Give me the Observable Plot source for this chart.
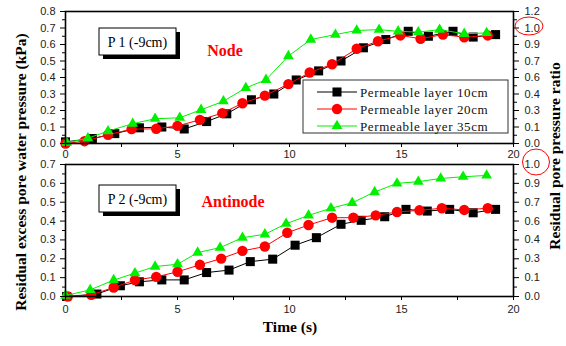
<!DOCTYPE html>
<html>
<head>
<meta charset="utf-8">
<script src="https://cdn.jsdelivr.net/npm/d3@7"></script>
<script src="https://cdn.jsdelivr.net/npm/@observablehq/plot@0.6"></script>
<style>
  body { margin: 0; background: #fff; }
  #wrap { position: relative; width: 566px; height: 346px; overflow: hidden; background: #fff; }
  .plot { position: absolute; left: 0; }
  .title { position: absolute; font-family: "Liberation Serif", serif; font-weight: bold; font-size: 15.5px; white-space: nowrap; color: #000; }
  #overlay { position: absolute; left: 0; top: 0; }
</style>
</head>
<body>
<div id="wrap"></div>
<script>
// ---- data ----
const seriesNames = ["Permeable layer 10cm", "Permeable layer 20cm", "Permeable layer 35cm"];
const seriesColors = ["#000000", "#ff0000", "#00f000"];
const seriesSymbols = ["square", "circle", "triangle"];

// P1 (Node) panel
const p1Time10 = [0, 1.2, 2.2, 3.3, 4.3, 5.3, 6.3, 7.2, 8.3, 9.3, 10.3, 11.3, 12.3, 13.3, 14.3, 15.3, 16.2, 17.3, 18.2, 19.2];
const p1Val10  = [0.01, 0.03, 0.06, 0.095, 0.10, 0.088, 0.133, 0.18, 0.265, 0.30, 0.385, 0.44, 0.50, 0.58, 0.63, 0.68, 0.65, 0.68, 0.645, 0.66];
const p1Time20 = [0, 0.85, 1.9, 2.95, 4.05, 5.0, 6.0, 7.0, 7.9, 8.9, 9.95, 10.9, 11.9, 13.0, 13.95, 14.95, 15.85, 16.85, 17.8, 18.85];
const p1Val20  = [0, 0.014, 0.053, 0.087, 0.089, 0.107, 0.143, 0.184, 0.244, 0.29, 0.36, 0.43, 0.48, 0.574, 0.62, 0.655, 0.635, 0.66, 0.644, 0.655];
const p1Time35 = [0.05, 1.0, 1.9, 3.0, 4.0, 5.1, 6.05, 7.05, 8.05, 8.95, 9.95, 10.95, 12.05, 13.0, 14.0, 14.85, 15.75, 16.7, 17.8, 18.8];
const p1Val35  = [0.005, 0.032, 0.075, 0.12, 0.15, 0.156, 0.204, 0.256, 0.337, 0.386, 0.53, 0.63, 0.66, 0.685, 0.69, 0.68, 0.675, 0.69, 0.665, 0.67];

// P2 (Antinode) panel
const p2Time10 = [0.05, 1.4, 2.45, 3.3, 4.3, 5.3, 6.3, 7.3, 8.25, 9.25, 10.25, 11.2, 12.3, 13.2, 14.25, 15.2, 16.15, 17.15, 18.2, 19.2];
const p2Val10  = [0, 0.013, 0.057, 0.078, 0.088, 0.088, 0.127, 0.14, 0.185, 0.198, 0.272, 0.312, 0.383, 0.404, 0.423, 0.462, 0.453, 0.462, 0.444, 0.462];
const p2Time20 = [0.1, 1.15, 2.15, 3.1, 4.05, 5.0, 6.0, 6.95, 7.9, 8.9, 9.9, 10.85, 11.9, 12.85, 13.85, 14.8, 15.8, 16.8, 17.8, 18.85];
const p2Val20  = [0, 0.009, 0.048, 0.087, 0.104, 0.131, 0.168, 0.201, 0.242, 0.265, 0.338, 0.379, 0.418, 0.418, 0.43, 0.448, 0.457, 0.468, 0.459, 0.468];
const p2Time35 = [0, 1.1, 2.15, 3.1, 4.0, 5.0, 5.9, 6.9, 7.9, 8.9, 9.85, 10.85, 11.85, 12.8, 13.8, 14.8, 15.75, 16.75, 17.75, 18.8];
const p2Val35  = [0.005, 0.035, 0.087, 0.124, 0.159, 0.171, 0.233, 0.259, 0.312, 0.33, 0.386, 0.43, 0.468, 0.497, 0.554, 0.6, 0.609, 0.626, 0.635, 0.642];

// ticks
const xTicks = [0, 5, 10, 15, 20];
const xMinorTicks = [2.5, 7.5, 12.5, 17.5];
const yTicksTop = [0, 0.1, 0.2, 0.3, 0.4, 0.5, 0.6, 0.7, 0.8];
const yTicksBottom = [0, 0.1, 0.2, 0.3, 0.4, 0.5, 0.6, 0.7];
const yMinorTop = [0.05, 0.15, 0.25, 0.35, 0.45, 0.55, 0.65, 0.75];
const yMinorBottom = [0.05, 0.15, 0.25, 0.35, 0.45, 0.55, 0.65];
const ratioLabelsTop = ["0.0", "0.1", "0.3", "0.4", "0.6", "0.7", "0.9", "1.0", "1.2"];
const ratioLabelsBottom = ["0.0", "0.1", "0.3", "0.4", "0.6", "0.7", "0.9", "1.0"];

const panelLabels = ["P 1 (-9cm)", "P 2 (-9cm)"];
const panelNotes = ["Node", "Antinode"];

function toRows(times, vals, s) { return times.map((t, i) => ({ t, v: vals[i], s })); }
const p1Series = [toRows(p1Time10, p1Val10, 0), toRows(p1Time20, p1Val20, 1), toRows(p1Time35, p1Val35, 2)];
const p2Series = [toRows(p2Time10, p2Val10, 0), toRows(p2Time20, p2Val20, 1), toRows(p2Time35, p2Val35, 2)];

const symR = [5.1, 5.2, 4.0];

function panel(series, yMax, yTicks, yMinor, ratioLabels, opts) {
  const marks = [];
  series.forEach((rows, i) => {
    marks.push(Plot.line(rows, { x: "t", y: "v", stroke: seriesColors[i], strokeWidth: 1 }));
    marks.push(Plot.dot(rows, { x: "t", y: "v", symbol: seriesSymbols[i], fill: seriesColors[i], stroke: "none", r: symR[i] }));
  });
  marks.push(
    Plot.frame({ stroke: "#000", strokeWidth: 1.6 }),
    Plot.axisY({ anchor: "left", ticks: yTicks, tickSize: 5, tickPadding: 5, tickFormat: d => d.toFixed(1), label: null, stroke: "#000", fill: "#222" }),
    Plot.axisY({ anchor: "left", ticks: yMinor, tickSize: 3, fill: "none", label: null, stroke: "#000" }),
    Plot.axisY({ anchor: "right", ticks: yTicks, tickSize: 5, tickPadding: 6, tickFormat: d => ratioLabels[Math.round(d * 10)], label: null, stroke: "#000", fill: "#222" }),
    Plot.axisY({ anchor: "right", ticks: yMinor, tickSize: 3, fill: "none", label: null, stroke: "#000" }),
    Plot.axisX({ anchor: "bottom", ticks: xTicks, tickSize: 4, tickPadding: opts.xPad, tickFormat: d => String(d), label: null, stroke: "#000", fill: "#222" }),
    Plot.axisX({ anchor: "bottom", ticks: xMinorTicks, tickSize: 4, fill: "none", label: null, stroke: "#000" })
  );
  return Plot.plot({
    width: 566,
    height: opts.height,
    marginLeft: 65,
    marginRight: 53,
    marginTop: opts.mt,
    marginBottom: opts.mb,
    x: { domain: [0, 20] },
    y: { domain: [0, yMax] },
    style: { fontFamily: "'Liberation Sans', Arial, sans-serif", fontSize: "11px", background: "transparent", overflow: "visible" },
    marks
  });
}

const wrap = document.getElementById("wrap");

const topPlot = panel(p1Series, 0.8, yTicksTop, yMinorTop, ratioLabelsTop, { height: 160, mt: 11, mb: 17, xPad: 3 });
topPlot.classList.add("plot"); topPlot.style.top = "0px";
wrap.appendChild(topPlot);

const botPlot = panel(p2Series, 0.7, yTicksBottom, yMinorBottom, ratioLabelsBottom, { height: 175, mt: 14, mb: 29, xPad: 5 });
botPlot.classList.add("plot"); botPlot.style.top = "150px";
wrap.appendChild(botPlot);

// ---- titles ----
function addTitle(text, cx, cy, rot) {
  const d = document.createElement("div");
  d.className = "title";
  d.textContent = text;
  d.style.left = cx + "px";
  d.style.top = cy + "px";
  d.style.transform = "translate(-50%,-50%)" + (rot ? " rotate(" + rot + "deg)" : "");
  wrap.appendChild(d);
}
addTitle("Residual excess pore water pressure (kPa)", 21, 172, -90);
addTitle("Residual pore pressure ratio", 555, 156, -90);
addTitle("Time (s)", 290, 327, 0);

// ---- overlay: panel labels, notes, legend, ellipses ----
const svg = d3.select(wrap).append("svg").attr("id", "overlay").attr("width", 566).attr("height", 346);
const boxes = [{ x: 99, y: 28 }, { x: 99, y: 185 }];
boxes.forEach((b, i) => {
  svg.append("rect").attr("x", b.x + 4).attr("y", b.y + 4).attr("width", 77).attr("height", 27).attr("fill", "#000");
  svg.append("rect").attr("x", b.x).attr("y", b.y).attr("width", 77).attr("height", 27).attr("fill", "#fff").attr("stroke", "#000").attr("stroke-width", 1);
  svg.append("text").attr("x", b.x + 38.5).attr("y", b.y + 18.5).attr("text-anchor", "middle")
    .attr("font-family", "'Liberation Serif', serif").attr("font-size", 14).text(panelLabels[i]);
});
const notePos = [{ x: 225, y: 55.5 }, { x: 233, y: 207 }];
notePos.forEach((p, i) => {
  svg.append("text").attr("x", p.x).attr("y", p.y).attr("text-anchor", "middle")
    .attr("font-family", "'Liberation Serif', serif").attr("font-weight", "bold").attr("font-size", 16)
    .attr("fill", "#ff0000").text(panelNotes[i]);
});

// legend
svg.append("rect").attr("x", 303).attr("y", 80).attr("width", 205).attr("height", 53)
  .attr("fill", "#fff").attr("stroke", "#333").attr("stroke-width", 1);
const rowY = [92, 109, 126];
const symbolTypes = { square: d3.symbolSquare, circle: d3.symbolCircle, triangle: d3.symbolTriangle };
seriesNames.forEach((name, i) => {
  const y = rowY[i];
  svg.append("line").attr("x1", 317).attr("x2", 357).attr("y1", y).attr("y2", y).attr("stroke", seriesColors[i]).attr("stroke-width", 1);
  svg.append("path").attr("transform", `translate(337,${y})`)
    .attr("d", d3.symbol(symbolTypes[seriesSymbols[i]], Math.PI * symR[i] * symR[i])())
    .attr("fill", seriesColors[i]);
  svg.append("text").attr("x", 360).attr("y", y + 4.5)
    .attr("font-family", "'Liberation Serif', serif").attr("font-size", 13).attr("letter-spacing", 0.6)
    .attr("fill", "#111").text(name);
});

// red ellipses around the 1.0 ratio labels
svg.append("ellipse").attr("cx", 529).attr("cy", 26).attr("rx", 14).attr("ry", 9).attr("fill", "none").attr("stroke", "#ff0000").attr("stroke-width", 1);
svg.append("ellipse").attr("cx", 536).attr("cy", 162).attr("rx", 13.5).attr("ry", 13).attr("fill", "none").attr("stroke", "#ff0000").attr("stroke-width", 1);
</script>
</body>
</html>
